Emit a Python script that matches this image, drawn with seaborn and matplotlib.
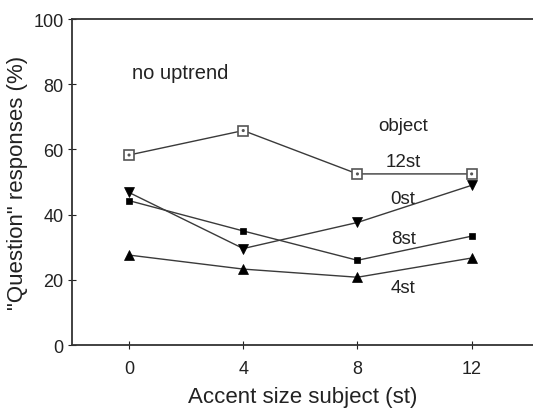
import matplotlib
matplotlib.use("Agg")
import matplotlib.pyplot as plt
import seaborn as sns
import pandas as pd

x_vals = [0, 4, 8, 12]
obj_12st = [58.3, 65.8, 52.5, 52.5]
obj_0st = [46.8, 29.6, 37.6, 49.0]
obj_8st = [44.3, 35.0, 26.0, 33.4]
obj_4st = [27.6, 23.3, 20.8, 26.7]
series_labels = ["12st", "0st", "8st", "4st"]
x_ticks = [0, 4, 8, 12]
y_ticks = [0, 20, 40, 60, 80, 100]

sns.set_theme(style="white")
plt.rcParams['font.family'] = ['Liberation Sans', 'DejaVu Sans']

fig = plt.figure(figsize=(5.33, 4.10), dpi=100)
ax = fig.add_axes([0.135, 0.156, 0.865, 0.795])

line_col = "#3a3a3a"
styles = {
    "12st": dict(marker="s", ms=6.5, mfc="white", mec="#555555", mew=1.2),
    "0st": dict(marker="v", ms=7, mfc="black", mec="black", mew=0.5),
    "8st": dict(marker="s", ms=4.5, mfc="black", mec="black", mew=0.5),
    "4st": dict(marker="^", ms=7, mfc="black", mec="black", mew=0.5),
}
data = {"12st": obj_12st, "0st": obj_0st, "8st": obj_8st, "4st": obj_4st}
for name in series_labels:
    df = pd.DataFrame({"x": x_vals, "y": data[name]})
    st = styles[name]
    sns.lineplot(data=df, x="x", y="y", ax=ax, color=line_col, lw=1.0,
                 marker=st["marker"], markersize=st["ms"],
                 markerfacecolor=st["mfc"], markeredgecolor=st["mec"],
                 markeredgewidth=st["mew"], zorder=3)
# inner dot of 12st markers
sns.scatterplot(x=x_vals, y=obj_12st, ax=ax, s=5, color="#555555", zorder=4, edgecolor="none")

ax.set_xlim(-2, 14.15)
ax.set_ylim(0, 100)
ax.set_xticks(x_ticks)
ax.set_yticks(y_ticks)
ax.tick_params(axis="both", direction="inout", length=6, width=0.8, colors="#222222",
               labelsize=13, left=True, bottom=True, pad=3)
ax.tick_params(axis="x", pad=8)
for s in ["left", "bottom", "top"]:
    ax.spines[s].set_color("#333333")
    ax.spines[s].set_linewidth(1.3)
ax.spines["right"].set_visible(False)

ax.set_xlabel("Accent size subject (st)", fontsize=16, color="#222222", labelpad=6)
ax.set_ylabel("\"Question\" responses (%)", fontsize=16, color="#222222", labelpad=4)

ax.text(0.1, 83.5, "no uptrend", fontsize=14.5, color="#222222", va="center", ha="left")
ax.text(9.6, 67.5, "object", fontsize=13.5, color="#222222", va="center", ha="center")
ax.text(9.6, 56.3, "12st", fontsize=13.5, color="#222222", va="center", ha="center")
ax.text(9.6, 45.0, "0st", fontsize=13.5, color="#222222", va="center", ha="center")
ax.text(9.6, 32.7, "8st", fontsize=13.5, color="#222222", va="center", ha="center")
ax.text(9.6, 17.8, "4st", fontsize=13.5, color="#222222", va="center", ha="center")

fig.savefig("out.png", dpi=100)
